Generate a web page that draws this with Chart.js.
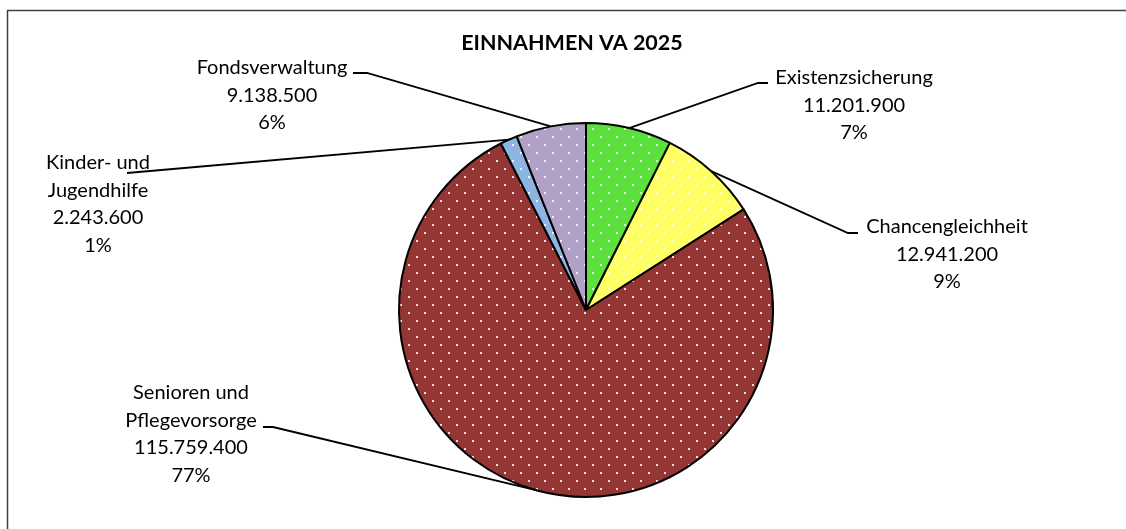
<!DOCTYPE html>
<html>
<head>
<meta charset="utf-8">
<script src="https://cdn.jsdelivr.net/npm/chart.js@4"></script>
<style>
  html, body { margin: 0; padding: 0; background: #fff; }
  #wrap { width: 1126px; height: 529px; }
</style>
</head>
<body>
<div id="wrap"><canvas id="chart" width="1126" height="529"></canvas></div>
<script>
// Daten
const kategorien = ['Existenzsicherung', 'Chancengleichheit', 'Senioren und Pflegevorsorge', 'Kinder- und Jugendhilfe', 'Fondsverwaltung'];
const labelZeilen = [['Existenzsicherung'], ['Chancengleichheit'], ['Senioren und', 'Pflegevorsorge'], ['Kinder- und', 'Jugendhilfe'], ['Fondsverwaltung']];
const werte = [11201900, 12941200, 115759400, 2243600, 9138500];
const farben = ['#5BE03D', '#FFFF66', '#943634', '#8DB4E2', '#B2A1C7'];
const titel = 'EINNAHMEN VA 2025';

// Position der Beschriftungen (Textmitte, erste Zeile) und Knick der Führungslinie
const labelLayout = [
  { x: 854, y: 78,  pfad: [[758, 83], [768, 83]] },
  { x: 947, y: 227, pfad: [[848, 233], [858, 233]] },
  { x: 191, y: 393, pfad: [[273, 427], [263, 427]] },
  { x: 98,  y: 163, pfad: [[127, 173]] },
  { x: 272, y: 68,  pfad: [[367, 73], [353, 73]] }
];

const FONT = 'Lato, "Open Sans", sans-serif';

function tausender(n) {
  return String(n).replace(/\B(?=(\d{3})+(?!\d))/g, '.');
}

const ctx = document.getElementById('chart').getContext('2d');

// gepunktetes Muster wie in Excel
function muster(farbe) {
  const c = document.createElement('canvas');
  c.width = 16; c.height = 16;
  const g = c.getContext('2d');
  g.fillStyle = farbe;
  g.fillRect(0, 0, 16, 16);
  g.fillStyle = 'rgba(255,255,255,0.85)';
  g.fillRect(0, 0, 2, 2);
  g.fillRect(8, 8, 2, 2);
  return ctx.createPattern(c, 'repeat');
}

const summe = werte.reduce((a, b) => a + b, 0);

const rahmenPlugin = {
  id: 'rahmen',
  beforeDraw(chart) {
    const c = chart.ctx;
    c.save();
    c.fillStyle = '#fff';
    c.fillRect(0, 0, chart.width, chart.height);
    c.strokeStyle = '#404040';
    c.lineWidth = 1.5;
    c.strokeRect(7.5, 10.5, 1300, 700);
    c.restore();
  }
};

const labelPlugin = {
  id: 'labels',
  afterDatasetsDraw(chart) {
    const c = chart.ctx;
    const arcs = chart.getDatasetMeta(0).data;
    c.save();
    // Titel
    c.fillStyle = '#000';
    c.font = 'bold 21.5px ' + FONT;
    c.textAlign = 'center';
    c.textBaseline = 'middle';
    c.fillText(titel, 572, 43);

    c.font = '20px ' + FONT;
    arcs.forEach((arc, i) => {
      const mitte = (arc.startAngle + arc.endAngle) / 2;
      const px = arc.x + Math.cos(mitte) * arc.outerRadius;
      const py = arc.y + Math.sin(mitte) * arc.outerRadius;
      const lay = labelLayout[i];

      c.strokeStyle = '#000';
      c.lineWidth = 1.8;
      c.beginPath();
      c.moveTo(px, py);
      lay.pfad.forEach(p => c.lineTo(p[0], p[1]));
      c.stroke();

      const zeilen = labelZeilen[i].concat([tausender(werte[i]), Math.round(werte[i] / summe * 100) + '%']);
      zeilen.forEach((z, k) => {
        c.fillText(z, lay.x, lay.y + k * 27.5);
      });
    });
    c.restore();
  }
};

new Chart(ctx, {
  type: 'pie',
  data: {
    labels: kategorien,
    datasets: [{
      data: werte,
      backgroundColor: farben.map(muster),
      borderColor: '#000',
      borderWidth: 2
    }]
  },
  options: {
    responsive: false,
    devicePixelRatio: 1,
    animation: false,
    layout: { padding: { top: 122, bottom: 31, left: 398, right: 352 } },
    plugins: {
      legend: { display: false },
      tooltip: { enabled: false },
      title: { display: false }
    }
  },
  plugins: [rahmenPlugin, labelPlugin]
});
</script>
</body>
</html>
